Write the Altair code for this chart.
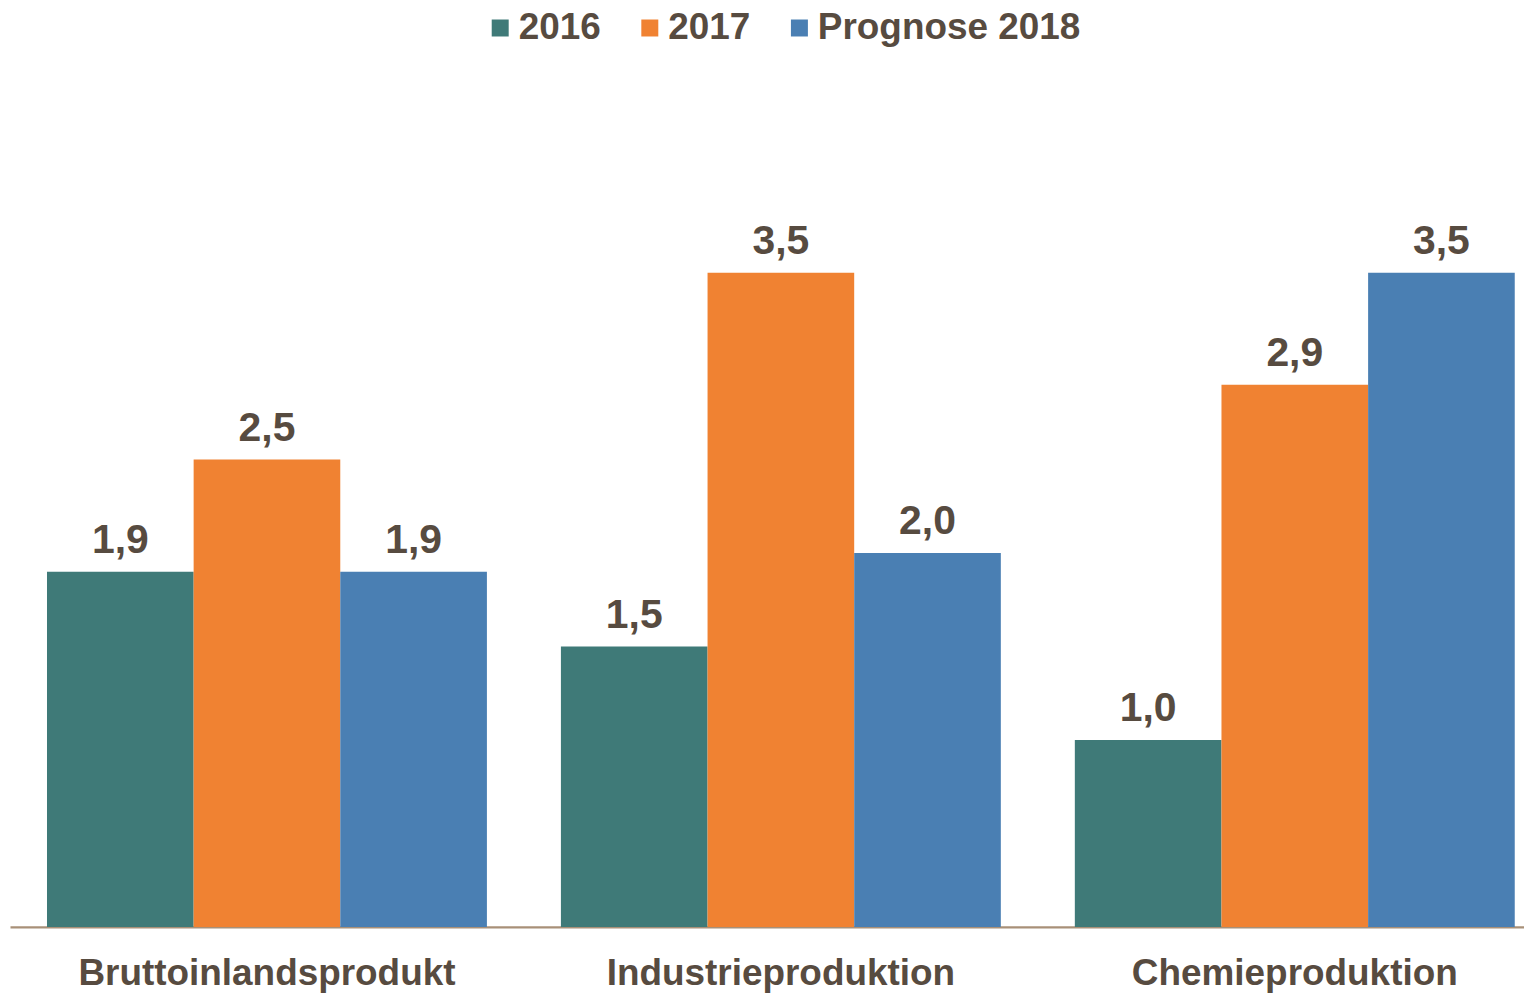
import altair as alt
import pandas as pd

categories = ["Bruttoinlandsprodukt", "Industrieproduktion", "Chemieproduktion"]
series = ["2016", "2017", "Prognose 2018"]
values_2016 = [1.9, 1.5, 1.0]
values_2017 = [2.5, 3.5, 2.9]
values_2018 = [1.9, 2.0, 3.5]
colors = ["#3F7A78", "#F08232", "#4A7FB3"]

rows = []
for s, vals in zip(series, [values_2016, values_2017, values_2018]):
    for c, v in zip(categories, vals):
        rows.append({"Kategorie": c, "Serie": s, "Wert": v})
df = pd.DataFrame(rows)

FONT = "Liberation Sans"
TXT = "#574B40"

base = alt.Chart(df).encode(
    x=alt.X("Kategorie:N", sort=categories, title=None,
            scale=alt.Scale(paddingInner=0.144, paddingOuter=0.045, align=0.8),
            axis=alt.Axis(labelAngle=0, labelFont=FONT, labelFontWeight="bold",
                          labelFontSize=37, labelColor=TXT, ticks=False, labelLimit=1000,
                          labelPadding=29, domainColor="#A89078", domainWidth=2.5)),
    xOffset=alt.XOffset("Serie:N", sort=series,
                        scale=alt.Scale(paddingInner=0, paddingOuter=0)),
    y=alt.Y("Wert:Q", axis=None, scale=alt.Scale(domain=[0, 4.909], nice=False, zero=True)),
)

bars = base.mark_bar(strokeWidth=0).encode(
    color=alt.Color("Serie:N", sort=series,
                    scale=alt.Scale(domain=series, range=colors),
                    legend=alt.Legend(title=None, orient="none", direction="horizontal",
                                      legendX=473, legendY=0, symbolType="square",
                                      symbolSize=290, symbolStrokeWidth=0,
                                      labelFont=FONT, labelFontWeight="bold",
                                      labelFontSize=37, labelColor=TXT,
                                      labelOffset=0, columnPadding=30, padding=0,
                                      labelLimit=400))
)

labels = base.mark_text(font=FONT, fontWeight="bold", fontSize=41, color=TXT,
                        baseline="alphabetic", dy=-19).transform_calculate(
    Label="replace(format(datum.Wert, '.1f'), '.', ',')"
).encode(text="Label:N")

chart = alt.layer(bars, labels).properties(
    width=1518, height=920,
    padding={"left": 2, "top": 0, "right": 0, "bottom": 0}
).configure(background="white").configure_view(strokeWidth=0, stroke="transparent")

chart.save("out.html", embed_options={"renderer": "svg", "actions": False})
